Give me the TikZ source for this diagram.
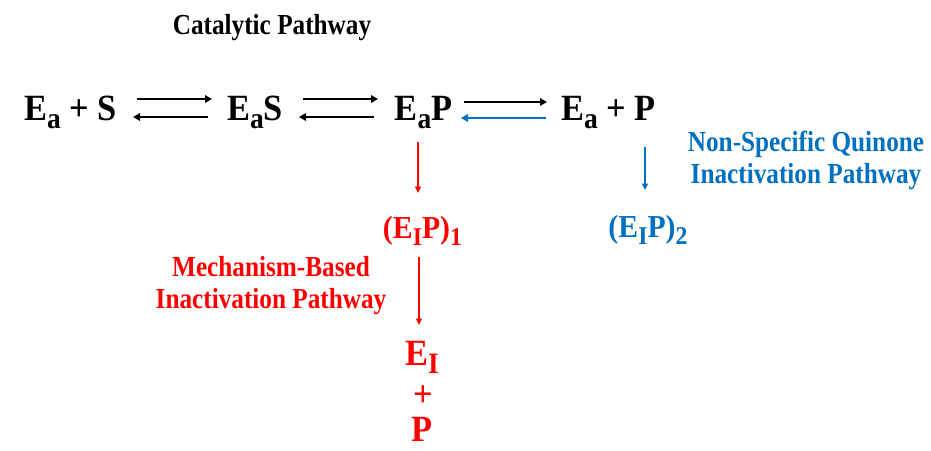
\documentclass[tikz,border=0pt]{standalone}
\usepackage{fontspec}
\usepackage{graphicx}
\setmainfont{Liberation Serif}
\newfontfamily\chemfont[FakeStretch=0.93]{Liberation Serif}
\newfontfamily\lblfont[FakeStretch=0.87]{Liberation Serif}
\usetikzlibrary{calc,arrows.meta}
\definecolor{qblue}{RGB}{0,112,192}
\definecolor{mred}{RGB}{255,0,0}
\newcommand\mysub[1]{\raisebox{-0.24em}{\scalebox{0.8}{#1}}}
\tikzset{
  chem/.style={inner sep=0pt, anchor=base, font=\chemfont\bfseries\fontsize{37}{40}\selectfont},
  chemsm/.style={inner sep=0pt, anchor=base, font=\chemfont\bfseries\fontsize{32}{36}\selectfont},
  lbl/.style={inner sep=0pt, align=center, font=\lblfont\bfseries\fontsize{29}{32}\selectfont},
  rx/.style={line width=1.8pt, -{Triangle[length=7pt,width=7.5pt]}},
  vx/.style={line width=1.4pt, -{Triangle[length=6.5pt,width=6pt]}},
}
\begin{document}
\begin{tikzpicture}[x=1pt,y=-1pt]
\useasboundingbox (0,0) rectangle (931,450);
% catalytic row
\node[chem] (EaS1) at (70.5,120) {E\mysub{a} + S};
\node[chem] (EaS) at (255,120) {E\mysub{a}S};
\node[chem] (EaP) at (423.5,120) {E\mysub{a}P};
\node[chem] (EaP2) at (608.5,120) {E\mysub{a} + P};
\node[lbl] (cat) at (272,28) {Catalytic Pathway};
% equilibrium arrows
\draw[rx] ($(EaS1.base)+(66.5,-21)$) -- ($(EaS.base)+(-43,-21)$);
\draw[rx] ($(EaS.base)+(-47,-3)$) -- ($(EaS1.base)+(62.5,-3)$);
\draw[rx] ($(EaS.base)+(48,-21)$) -- ($(EaP.base)+(-45.5,-21)$);
\draw[rx] ($(EaP.base)+(-49.5,-3)$) -- ($(EaS.base)+(44,-3)$);
\draw[rx] ($(EaP.base)+(40.5,-18)$) -- ($(EaP2.base)+(-61.5,-18)$);
\draw[rx, qblue] ($(EaP2.base)+(-62.5,-2)$) -- ($(EaP.base)+(37.5,-2)$);
% mechanism-based pathway (red)
\node[chemsm, text=mred] (EIP1) at (422.5,238) {(E\mysub{I}P)\mysub{1}};
\node[chem, text=mred] (EI) at (422,365) {E\mysub{I}};
\node[chem, text=mred] (plus) at (423,406) {+};
\node[chem, text=mred] (Pf) at (422,441) {P};
\node[lbl, text=mred] (mech) at (271,286) {Mechanism-Based\\Inactivation Pathway};
\draw[vx, mred] ($(EaP.base)+(-5.5,22)$) -- ($(EIP1.base)+(-4.5,-45)$);
\draw[vx, mred] ($(EIP1.base)+(-3.5,19)$) -- ($(EI.base)+(-3,-40)$);
% non-specific pathway (blue)
\node[chemsm, text=qblue] (EIP2) at (648,237) {(E\mysub{I}P)\mysub{2}};
\node[lbl, text=qblue] (nsq) at (806,160) {Non-Specific Quinone\\Inactivation Pathway};
\draw[vx, qblue] ($(EaP2.base)+(36.5,27)$) -- ($(EIP2.base)+(-3,-47)$);
\end{tikzpicture}
\end{document}
